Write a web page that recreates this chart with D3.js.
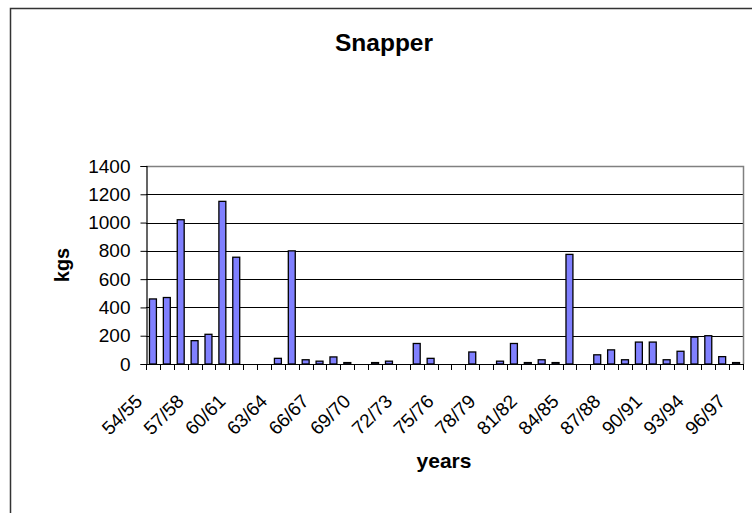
<!DOCTYPE html>
<html>
<head>
<meta charset="utf-8">
<script src="https://cdn.jsdelivr.net/npm/d3@7"></script>
<style>
  html, body { margin: 0; padding: 0; background: #fff; }
  svg { display: block; }
  text { font-family: Arial, "Liberation Sans", sans-serif; fill: #000; }
</style>
</head>
<body>
<svg id="chart" width="752" height="513"></svg>
<script>
const categories = ["54/55","55/56","56/57","57/58","58/59","59/60","60/61","61/62","62/63","63/64",
  "64/65","65/66","66/67","67/68","68/69","69/70","70/71","71/72","72/73","73/74",
  "74/75","75/76","76/77","77/78","78/79","79/80","80/81","81/82","82/83","83/84",
  "84/85","85/86","86/87","87/88","88/89","89/90","90/91","91/92","92/93","93/94",
  "94/95","95/96","96/97"];
const values = [460,470,1020,165,210,1150,755,0,0,40,
  800,30,20,50,10,0,10,20,0,145,
  40,0,0,85,0,20,145,10,30,10,
  775,0,65,100,30,155,155,30,90,190,
  200,52,10];
const yTicks = [0,200,400,600,800,1000,1200,1400];
const labelEvery = 3;
const title = "Snapper";
const xTitle = "years";
const yTitle = "kgs";

const svg = d3.select("#chart");
const L = 146, R = 743, T = 166, B = 364;

// chart border
svg.append("rect").attr("x", 10.5).attr("y", 8.5).attr("width", 900).attr("height", 700)
  .attr("fill", "none").attr("stroke", "#333").attr("stroke-width", 1.5);

const x = d3.scaleBand().domain(categories).range([L, R]).paddingInner(0.5).paddingOuter(0.25);
const y = d3.scaleLinear().domain([0, 1400]).range([B, T]);
const step = x.step();

// gridlines
svg.append("g").selectAll("line").data(yTicks.filter(d => d > 0 && d < 1400)).join("line")
  .attr("x1", L).attr("x2", R)
  .attr("y1", d => Math.round(y(d)) + 0.5).attr("y2", d => Math.round(y(d)) + 0.5)
  .attr("stroke", "#000").attr("stroke-width", 1);

// plot top/right border (gray)
svg.append("path")
  .attr("d", `M${L},${Math.round(y(1400)) + 0.5}H${R + 0.5}V${B}`)
  .attr("fill", "none").attr("stroke", "#808080").attr("stroke-width", 1.5);

// bars
svg.append("g").selectAll("rect").data(values).join("rect")
  .attr("x", (d, i) => x(categories[i]))
  .attr("width", x.bandwidth())
  .attr("y", d => y(d))
  .attr("height", d => B - y(d))
  .attr("fill", "#8080ff").attr("stroke", "#000").attr("stroke-width", 1.3);

// y axis
const yAxis = svg.append("g").attr("transform", `translate(${L + 0.5},0)`)
  .call(d3.axisLeft(y).tickValues(yTicks).tickSize(6).tickPadding(10).tickFormat(d3.format("d")));
yAxis.select(".domain").attr("stroke", "#000").attr("stroke-width", 1.2);
yAxis.selectAll(".tick line").attr("stroke", "#000");
yAxis.selectAll("text").attr("font-size", 19).attr("font-family", "Arial, 'Liberation Sans', sans-serif").attr("fill", "#000");

// x axis line
svg.append("line").attr("x1", L).attr("x2", R).attr("y1", B + 0.5).attr("y2", B + 0.5)
  .attr("stroke", "#000").attr("stroke-width", 1.2);
// ticks between categories
const boundaries = categories.map(c => x(c) + x.bandwidth() / 2 - step / 2).concat([R]);
svg.append("g").selectAll("line").data(boundaries).join("line")
  .attr("x1", d => Math.round(d) + 0.5).attr("x2", d => Math.round(d) + 0.5)
  .attr("y1", B).attr("y2", B + 6).attr("stroke", "#000");

// x labels
svg.append("g").selectAll("text").data(categories.filter((c, i) => i % labelEvery === 0)).join("text")
  .attr("transform", d => `translate(${x(d) + x.bandwidth() / 2 - 9.5},${B + 38.5}) rotate(-45)`)
  .attr("text-anchor", "end")
  .attr("font-size", 19)
  .text(d => d);

// titles
svg.append("text").attr("x", 384).attr("y", 51).attr("text-anchor", "middle")
  .attr("font-size", 24.5).attr("font-weight", "bold").text(title);
svg.append("text").attr("x", 444).attr("y", 468).attr("text-anchor", "middle")
  .attr("font-size", 21).attr("font-weight", "bold").text(xTitle);
svg.append("text").attr("transform", "translate(69,265) rotate(-90)").attr("text-anchor", "middle")
  .attr("font-size", 20).attr("font-weight", "bold").text(yTitle);
</script>
</body>
</html>
